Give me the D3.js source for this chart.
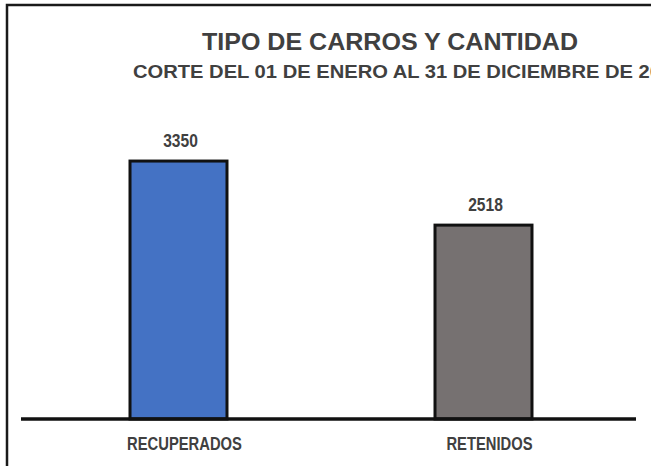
<!DOCTYPE html>
<html><head><meta charset="utf-8">
<script src="https://cdn.jsdelivr.net/npm/d3@7"></script>
<style>
html,body{margin:0;padding:0;background:#fff;overflow:hidden;}
svg{display:block;}
text{font-family:"Liberation Sans",Arial,sans-serif;font-weight:bold;fill:#404040;}
</style></head>
<body>
<script>
const categories = ["RECUPERADOS", "RETENIDOS"];
const values = [3350, 2518];
const colors = ["#4472C4", "#767171"];
const title = "TIPO DE CARROS Y CANTIDAD";
const subtitle = "CORTE DEL 01 DE ENERO AL 31 DE DICIEMBRE DE 20";

const W = 651, H = 466;
const NARROW = 0.82; // emulate Arial Narrow
const svg = d3.select("body").append("svg").attr("width", W).attr("height", H);
svg.append("rect").attr("width", W).attr("height", H).attr("fill", "#fff");

function condense(sel, factor) {
  sel.each(function () {
    const w = this.getComputedTextLength();
    d3.select(this).attr("textLength", w * factor).attr("lengthAdjust", "spacingAndGlyphs");
  });
}

// chart border (right/bottom sides fall outside the window)
svg.append("path").attr("d", "M7,700 L7,5 L700,5")
  .attr("fill", "none").attr("stroke", "#1a1a1a").attr("stroke-width", 2.5);

svg.append("text").attr("x", 202).attr("y", 50)
  .style("font-size", "24px").attr("textLength", 376).attr("lengthAdjust", "spacingAndGlyphs")
  .text(title);
svg.append("text").attr("x", 133).attr("y", 78)
  .style("font-size", "17.5px").attr("textLength", 528).attr("lengthAdjust", "spacingAndGlyphs")
  .text(subtitle);

const baseY = 419;
const x = d3.scaleBand().domain(categories).range([26, 636]).paddingInner(0.682).paddingOuter(0.341);
const y = d3.scaleLinear().domain([0, 4000]).range([baseY, baseY - 308]);

svg.selectAll("rect.bar").data(values).join("rect").attr("class", "bar")
  .attr("x", (d, i) => x(categories[i]))
  .attr("y", d => y(d))
  .attr("width", x.bandwidth())
  .attr("height", d => y(0) - y(d))
  .attr("fill", (d, i) => colors[i])
  .attr("stroke", "#111").attr("stroke-width", 3);

svg.selectAll("text.val").data(values).join("text").attr("class", "val")
  .attr("x", (d, i) => x(categories[i]) + x.bandwidth() / 2 + 2)
  .attr("y", d => y(d) - 14)
  .attr("text-anchor", "middle").style("font-size", "19px")
  .text(d => d)
  .call(condense, NARROW);

// axis line
svg.append("line").attr("x1", 21).attr("x2", 636).attr("y1", baseY).attr("y2", baseY)
  .attr("stroke", "#111").attr("stroke-width", 3.5);

const xAxis = d3.axisBottom(x).tickSize(0).tickPadding(0);
const gx = svg.append("g").attr("transform", `translate(6,${baseY})`).call(xAxis);
gx.select(".domain").remove();
gx.selectAll("text").attr("dy", null).attr("y", 31)
  .style("font-size", "18px").style("fill", "#404040")
  .style("font-family", "\"Liberation Sans\",Arial,sans-serif")
  .style("font-weight", "bold")
  .call(condense, NARROW);
</script>
</body></html>
